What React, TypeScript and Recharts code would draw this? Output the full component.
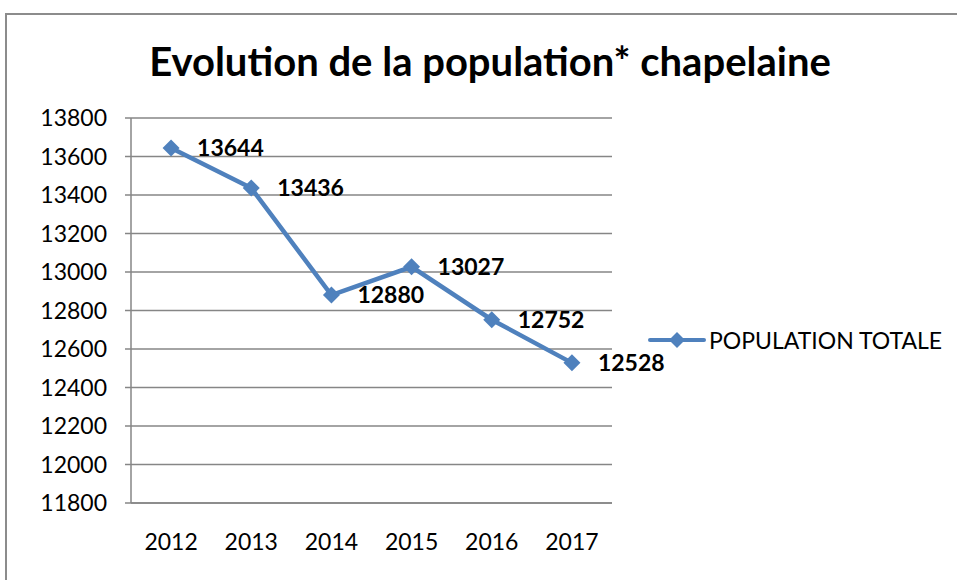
import { CartesianGrid, LabelList, Legend, Line, LineChart, XAxis, YAxis } from 'recharts';

const years = [2012, 2013, 2014, 2015, 2016, 2017];
const population = [13644, 13436, 12880, 13027, 12752, 12528];
const yTicks = [11800, 12000, 12200, 12400, 12600, 12800, 13000, 13200, 13400, 13600, 13800];
const yearEdges = [2011.5, 2012.5, 2013.5, 2014.5, 2015.5, 2016.5, 2017.5];

const data = years.map((year, i) => ({ year, pop: population[i] }));

const BLUE = '#4f81bd';
const GREY = '#868686';
const FONT = 'Lato, Calibri, sans-serif';

function Diamond({ cx, cy }: any) {
    if (cx == null || cy == null) return null;
    const r = 8.5;
    return <polygon points={`${cx},${cy - r} ${cx + r},${cy} ${cx},${cy + r} ${cx - r},${cy}`} fill={BLUE} />;
}

function LegendBox() {
    return (
        <div style={{ display: 'flex', alignItems: 'center', fontFamily: FONT, fontSize: 23, color: '#000' }}>
            <svg width={58} height={20}>
                <line x1={2} y1={10} x2={56} y2={10} stroke={BLUE} strokeWidth={4} strokeLinecap="round" />
                <polygon points="29,2 37,10 29,18 21,10" fill={BLUE} />
            </svg>
            <span style={{ marginLeft: 3 }}>POPULATION TOTALE</span>
        </div>
    );
}

export default function App() {
    return (
        <div style={{ position: 'absolute', left: 0, top: 0, width: 957, height: 580, background: '#fff', fontFamily: FONT }}>
            <div style={{ position: 'absolute', left: 5, top: 13, width: 1000, height: 700, border: '2px solid #8c8c8c', boxSizing: 'border-box' }} />
            <LineChart width={957} height={580} data={data} margin={{ top: 118, right: 45, bottom: 30, left: 71 }} style={{ position: 'absolute', left: 0, top: 0 }}>
                <text x={490} y={76} textAnchor="middle" fontFamily={FONT} fontWeight={700} fontSize={40} fill="#000">
                    Evolution de la population* chapelaine
                </text>
                <CartesianGrid vertical={false} stroke={GREY} strokeWidth={1.5} xAxisId="edges" />
                <XAxis
                    xAxisId="edges"
                    dataKey="year"
                    type="number"
                    domain={[2011.5, 2017.5]}
                    ticks={yearEdges}
                    tick={false}
                    tickSize={6}
                    height={1}
                    stroke={GREY}
                    strokeWidth={1.5}
                />
                <XAxis
                    xAxisId="labels"
                    dataKey="year"
                    type="number"
                    domain={[2011.5, 2017.5]}
                    ticks={years}
                    axisLine={false}
                    tickLine={false}
                    height={46}
                    tick={{ fill: '#000', fontSize: 23, fontFamily: FONT, dy: 22 }}
                />
                <YAxis
                    domain={[11800, 13800]}
                    ticks={yTicks}
                    width={60}
                    interval={0}
                    tickSize={6}
                    stroke={GREY}
                    strokeWidth={1.5}
                    tick={{ fill: '#000', fontSize: 23, fontFamily: FONT }}
                    tickMargin={18}
                />
                <Legend
                    layout="vertical"
                    align="right"
                    verticalAlign="middle"
                    content={<LegendBox />}
                    wrapperStyle={{ width: 300, left: 648, top: 326, right: 'auto' }}
                />
                <Line
                    xAxisId="labels"
                    dataKey="pop"
                    name="POPULATION TOTALE"
                    stroke={BLUE}
                    strokeWidth={4.5}
                    dot={<Diamond />}
                    activeDot={false}
                    isAnimationActive={false}
                >
                    <LabelList dataKey="pop" position="right" offset={26} fill="#000" fontWeight={700} fontSize={23} fontFamily={FONT} />
                </Line>
            </LineChart>
        </div>
    );
}
